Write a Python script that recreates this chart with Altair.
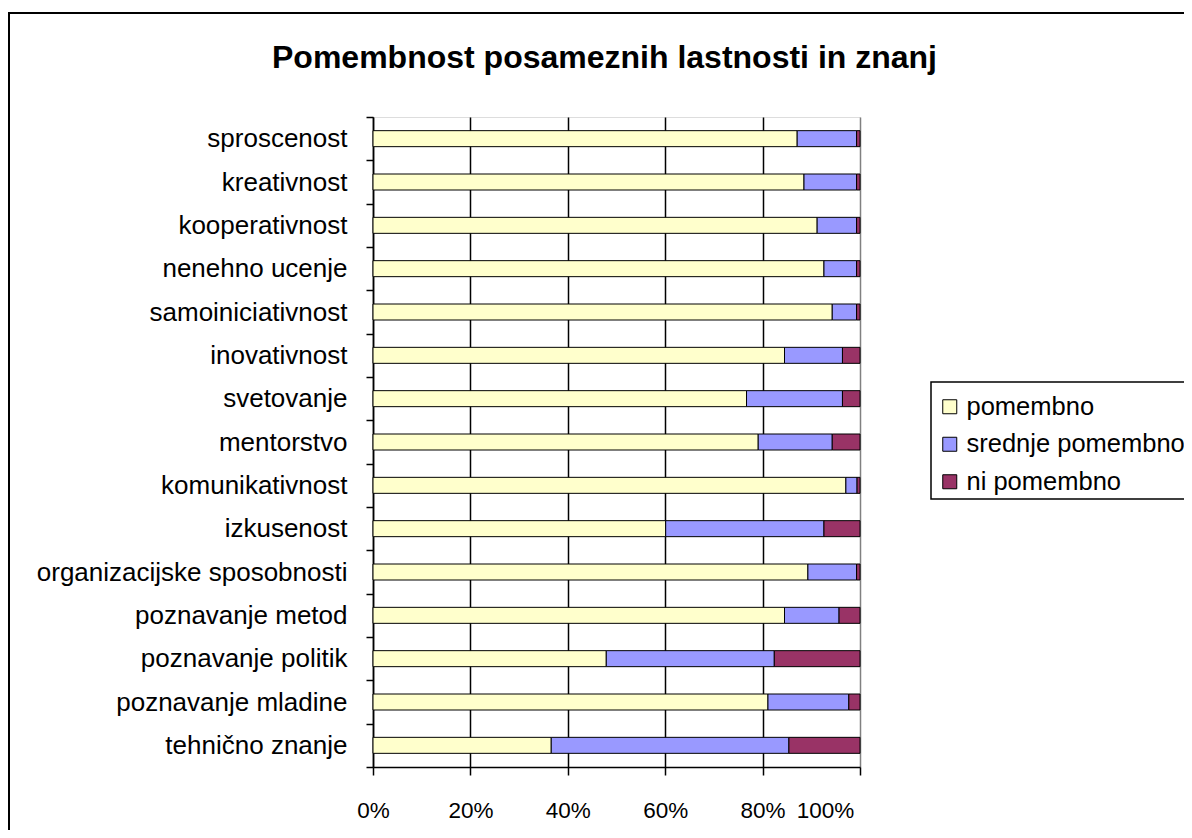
import altair as alt
import pandas as pd

categories = [
    "sproscenost", "kreativnost", "kooperativnost", "nenehno ucenje",
    "samoiniciativnost", "inovativnost", "svetovanje", "mentorstvo",
    "komunikativnost", "izkusenost", "organizacijske sposobnosti",
    "poznavanje metod", "poznavanje politik", "poznavanje mladine",
    "tehnično znanje",
]
pomembno = [87.1, 88.5, 91.2, 92.6, 94.3, 84.5, 76.7, 79.1, 97.1, 60.1, 89.3, 84.5, 47.9, 81.1, 36.6]
srednje_pomembno = [12.2, 10.8, 8.1, 6.7, 5.0, 11.9, 19.7, 15.2, 2.3, 32.5, 10.0, 11.2, 34.5, 16.6, 48.8]
ni_pomembno = [0.7, 0.7, 0.7, 0.7, 0.7, 3.6, 3.6, 5.7, 0.6, 7.4, 0.7, 4.3, 17.6, 2.3, 14.6]

series = ["pomembno", "srednje pomembno", "ni pomembno"]
colors = ["#FFFFCC", "#9999FF", "#993366"]
x_ticks = [0, 0.2, 0.4, 0.6, 0.8, 1.0]
title_text = "Pomembnost posameznih lastnosti in znanj"

rows = []
for i, c in enumerate(categories):
    for j, vals in enumerate([pomembno, srednje_pomembno, ni_pomembno]):
        rows.append({"cat": c, "series": series[j], "order": j, "value": vals[i]})
df = pd.DataFrame(rows)

FONT = "Liberation Sans"

bars = alt.Chart(df).mark_bar(stroke="black", strokeWidth=1, size=16).encode(
    y=alt.Y(
        "cat:N", sort=categories, title=None,
        scale=alt.Scale(paddingInner=0, paddingOuter=0),
        axis=alt.Axis(
            tickBand="extent", ticks=True, tickSize=7, tickColor="black", tickWidth=1.5,
            domainColor="black", domainWidth=1.5, labelFontSize=26, labelFont=FONT,
            labelColor="black", labelPadding=19, grid=False, labelLimit=500,
        ),
    ),
    x=alt.X(
        "value:Q", stack="normalize", title=None,
        scale=alt.Scale(domain=[0, 1], nice=False),
        axis=alt.Axis(
            format="%", values=x_ticks, grid=True,
            gridColor={"condition": {"test": "datum.value >= 1", "value": "#808080"}, "value": "black"},
            gridWidth=1.5, tickSize=8, tickColor="black", tickWidth=1.5,
            domainColor="black", domainWidth=1.5, labelFontSize=22.5, labelFont=FONT,
            labelColor="black", labelPadding=24, labelFlush=False,
            labelOffset={"condition": {"test": "datum.value >= 1", "value": -35}, "value": 0},
        ),
    ),
    color=alt.Color(
        "series:N", sort=series,
        scale=alt.Scale(domain=series, range=colors),
        legend=alt.Legend(
            title=None, orient="none", legendX=564, legendY=277, padding=0,
            symbolType="square", symbolSize=196, symbolStrokeColor="black",
            symbolStrokeWidth=1, symbolOpacity=1, labelFontSize=25.5, labelFont=FONT,
            labelColor="black", labelOffset=4, rowPadding=10.5, labelLimit=400,
        ),
    ),
    order=alt.Order("order:Q"),
)

deco = pd.DataFrame({"k": [0]})
outer = alt.Chart(deco).mark_rect(filled=False, stroke="black", strokeWidth=2).encode(
    x=alt.value(-364), x2=alt.value(1100), y=alt.value(-104), y2=alt.value(900)
)
legend_box = alt.Chart(deco).mark_rect(filled=False, stroke="black", strokeWidth=1.5).encode(
    x=alt.value(558), x2=alt.value(1100), y=alt.value(265), y2=alt.value(382)
)
title = alt.Chart(deco).mark_text(
    text=title_text, font=FONT, fontSize=32, fontWeight="bold", color="black",
    align="center", baseline="alphabetic",
).encode(x=alt.value(231.5), y=alt.value(-49.5))

chart = alt.layer(bars, outer, legend_box, title).properties(
    width=487, height=650,
    autosize=alt.AutoSizeParams(type="none"),
    padding={"left": 365, "top": 109, "right": 324, "bottom": 63},
).configure_view(fill="#C0C0C0", stroke="#808080", strokeWidth=1).configure(background="white")

chart.save("out.html", embed_options={"renderer": "svg", "actions": False})
